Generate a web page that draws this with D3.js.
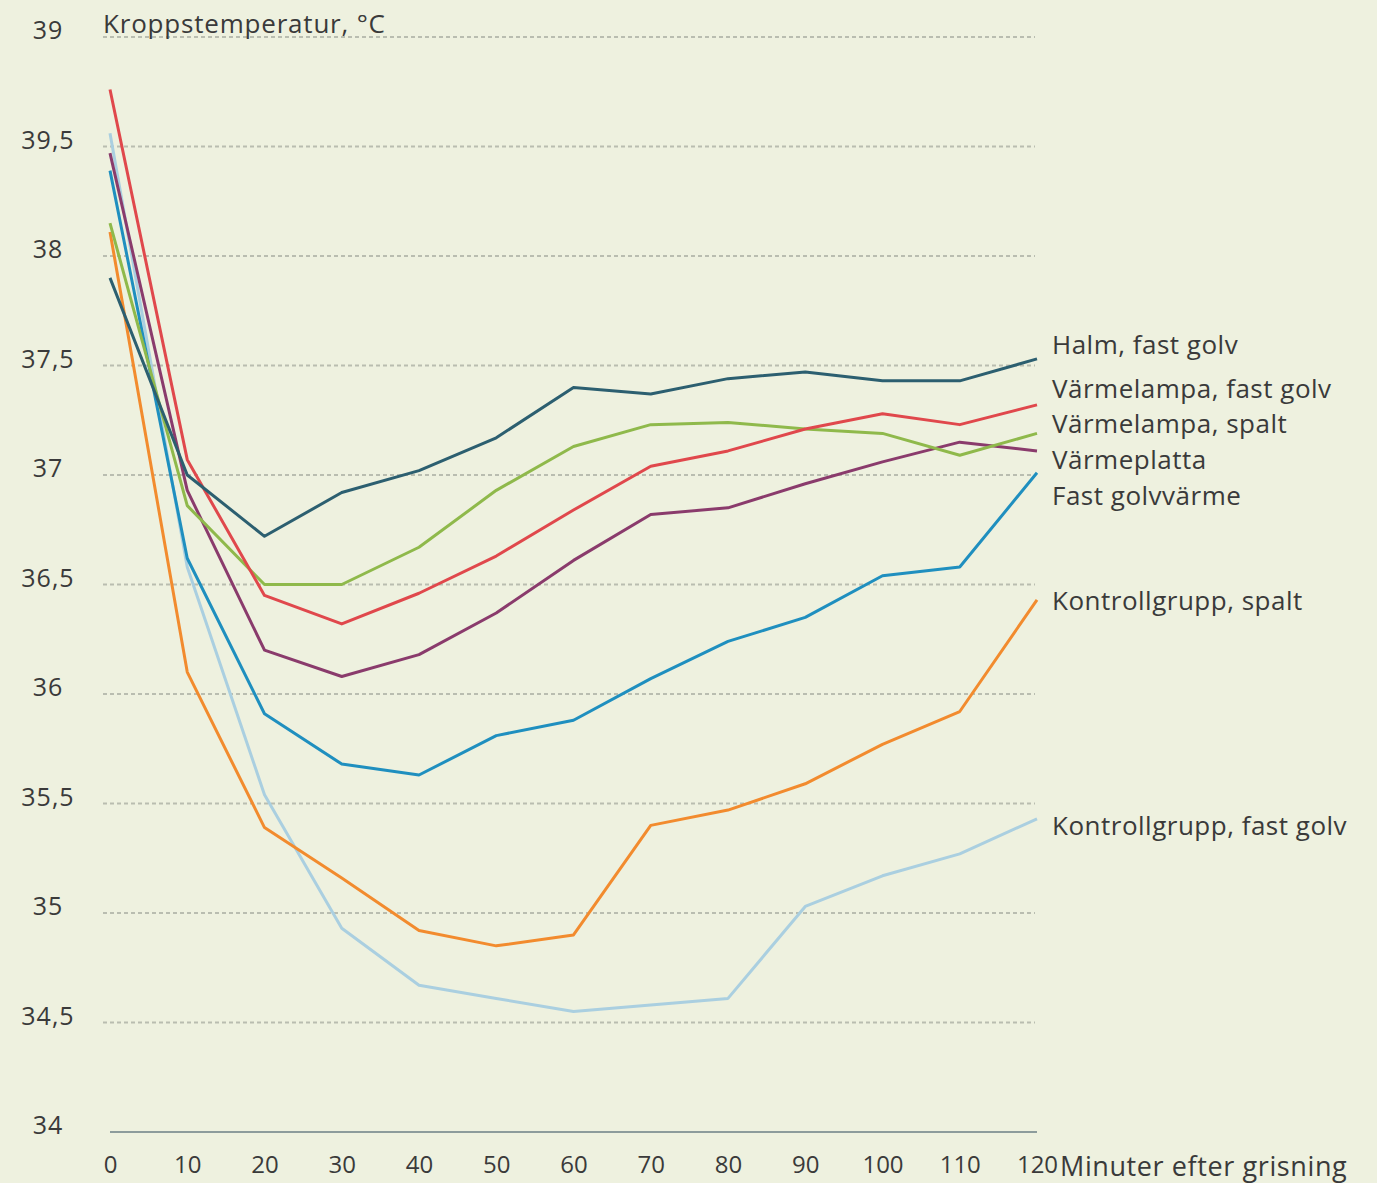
<!DOCTYPE html>
<html>
<head>
<meta charset="utf-8">
<script src="https://cdn.jsdelivr.net/npm/d3@7"></script>
<style>
  html, body { margin: 0; padding: 0; background: #eef1df; }
  svg { display: block; }
  text { font-family: "Open Sans", "Roboto", sans-serif; fill: #3a3a3a; }
</style>
</head>
<body>
<div id="chart"></div>
<script>
// minutes after farrowing
var minutes = [0, 10, 20, 30, 40, 50, 60, 70, 80, 90, 100, 110, 120];

var seriesNames = ["Halm, fast golv", "Värmelampa, fast golv", "Värmelampa, spalt", "Värmeplatta",
  "Fast golvvärme", "Kontrollgrupp, spalt", "Kontrollgrupp, fast golv"];

var halmFastGolv         = [37.90, 37.00, 36.72, 36.92, 37.02, 37.17, 37.40, 37.37, 37.44, 37.47, 37.43, 37.43, 37.53];
var varmelampaFastGolv   = [38.76, 37.07, 36.45, 36.32, 36.46, 36.63, 36.84, 37.04, 37.11, 37.21, 37.28, 37.23, 37.32];
var varmelampaSpalt      = [38.15, 36.86, 36.50, 36.50, 36.67, 36.93, 37.13, 37.23, 37.24, 37.21, 37.19, 37.09, 37.19];
var varmeplatta          = [38.47, 36.93, 36.20, 36.08, 36.18, 36.37, 36.61, 36.82, 36.85, 36.96, 37.06, 37.15, 37.11];
var fastGolvvarme        = [38.39, 36.62, 35.91, 35.68, 35.63, 35.81, 35.88, 36.07, 36.24, 36.35, 36.54, 36.58, 37.01];
var kontrollSpalt        = [38.11, 36.10, 35.39, 35.16, 34.92, 34.85, 34.90, 35.40, 35.47, 35.59, 35.77, 35.92, 36.43];
var kontrollFastGolv     = [38.56, 36.58, 35.54, 34.93, 34.67, 34.61, 34.55, 34.58, 34.61, 35.03, 35.17, 35.27, 35.43];

var seriesValues = [halmFastGolv, varmelampaFastGolv, varmelampaSpalt, varmeplatta,
  fastGolvvarme, kontrollSpalt, kontrollFastGolv];

// y ticks and their printed labels (as printed in the source)
var yTicks = [34, 34.5, 35, 35.5, 36, 36.5, 37, 37.5, 38, 38.5, 39];
var yTickLabels = ["34", "34,5", "35", "35,5", "36", "36,5", "37", "37,5", "38", "39,5", "39"];
var xTicks = [0, 10, 20, 30, 40, 50, 60, 70, 80, 90, 100, 110, 120];

// styling
var colors = ["#2c5f70", "#e0484c", "#8fb94b", "#8a3b6c", "#1f8fbf", "#f28b2e", "#aacfe0"];
var labelNudge = [-15, -17, -10.6, 8, 22, 0, 6];

var width = 1377, height = 1183;
var x = d3.scaleLinear().domain([0, 120]).range([110, 1037]);
var y = d3.scaleLinear().domain([34, 39]).range([1132, 37]);

var svg = d3.select("#chart").append("svg").attr("width", width).attr("height", height);

// dotted grid
svg.append("g").selectAll("line").data(yTicks.slice(1)).enter().append("line")
  .attr("x1", 103).attr("x2", 1035)
  .attr("y1", function(d) { return y(d); }).attr("y2", function(d) { return y(d); })
  .attr("stroke", "#b9bdb0").attr("stroke-width", 2).attr("stroke-dasharray", "4,3");

// bottom axis line
svg.append("line").attr("x1", x(0)).attr("x2", x(120)).attr("y1", y(34)).attr("y2", y(34))
  .attr("stroke", "#8d9c9c").attr("stroke-width", 2);

// y tick labels
svg.append("g").selectAll("text").data(yTicks).enter().append("text")
  .attr("x", 48).attr("y", function(d) { return y(d) - 8; })
  .attr("text-anchor", "middle").attr("dominant-baseline", "central")
  .style("font-size", "25px").style("letter-spacing", "1px")
  .text(function(d, i) { return yTickLabels[i]; });

// x tick labels
var xAxis = d3.axisBottom(x).tickValues(xTicks).tickSize(0).tickPadding(0);
var gx = svg.append("g").attr("transform", "translate(0," + 1156 + ")").call(xAxis);
gx.select(".domain").remove();
gx.selectAll("text").style("font-size", "24px").attr("fill", "#3a3a3a")
  .style("font-family", "'Open Sans', Roboto, sans-serif");

svg.append("text").attr("x", 1060).attr("y", 1165).attr("dominant-baseline", "central")
  .style("font-size", "27px").style("letter-spacing", "0.6px").text("Minuter efter grisning");

svg.append("text").attr("x", 103).attr("y", 23).attr("dominant-baseline", "central")
  .style("font-size", "26px").style("letter-spacing", "0.8px").text("Kroppstemperatur, °C");

// lines
var line = d3.line()
  .x(function(d, i) { return x(minutes[i]); })
  .y(function(d) { return y(d); });

// draw the lower groups first so top lines sit above
var order = [6, 5, 4, 3, 2, 1, 0];
order.forEach(function(k) {
  svg.append("path").datum(seriesValues[k])
    .attr("d", line)
    .attr("fill", "none")
    .attr("stroke", colors[k])
    .attr("stroke-width", 3)
    .attr("stroke-linejoin", "round");
});

// labels at line ends
svg.append("g").selectAll("text").data(seriesNames).enter().append("text")
  .attr("x", 1052)
  .attr("y", function(d, i) { return y(seriesValues[i][seriesValues[i].length - 1]) + labelNudge[i]; })
  .attr("dominant-baseline", "central")
  .style("font-size", "26px").style("letter-spacing", "0.5px")
  .text(function(d) { return d; });
</script>
</body>
</html>
